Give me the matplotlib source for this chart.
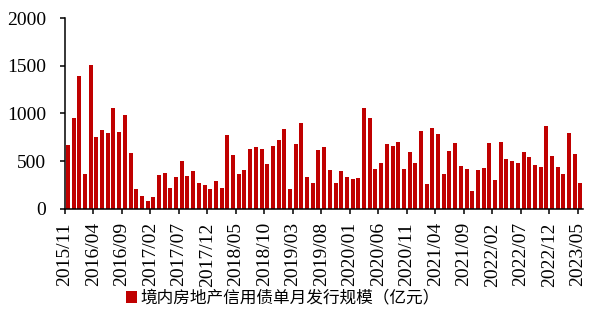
import matplotlib
matplotlib.use('Agg')
import matplotlib.pyplot as plt
import numpy as np

# monthly issuance, 2015/11 .. 2023/05 (亿元)
start_year, start_month = 2015, 11
values = [670, 956, 1396, 366, 1511, 754, 831, 792, 1057, 810,
          981, 590, 206, 133, 80, 122, 356, 373, 216, 335,
          503, 349, 398, 276, 251, 209, 297, 216, 775, 569,
          366, 408, 632, 646, 625, 475, 660, 719, 841, 209,
          681, 897, 332, 272, 618, 649, 408, 269, 398, 339,
          318, 328, 1054, 949, 415, 478, 684, 663, 698, 419,
          597, 478, 817, 262, 852, 789, 366, 611, 691, 454,
          415, 192, 408, 433, 695, 307, 702, 527, 506, 482,
          597, 544, 461, 436, 873, 551, 436, 363, 792, 579, 276]
yticks = [0, 500, 1000, 1500, 2000]
legend_label = '境内房地产信用债单月发行规模（亿元）'

labels = []
for i in range(len(values)):
    m = start_month - 1 + i
    labels.append('%d/%02d' % (start_year + m // 12, m % 12 + 1))

fig = plt.figure(figsize=(5.91, 3.16), dpi=100)
ax = fig.add_axes([0.110, 0.339, 0.877, 0.604])
x = np.arange(len(values))
ax.bar(x, values, width=0.7, color='#C00000', label=legend_label)

ax.set_xlim(-0.5, len(values) - 0.5)
ax.set_ylim(0, 2000)
ax.set_yticks(yticks)
ax.set_yticklabels([str(v) for v in yticks], fontfamily='Liberation Serif', fontsize=14)
tick_pos = x[::5]
ax.set_xticks(tick_pos - 0.5)
ax.set_xticklabels([labels[i] for i in tick_pos], rotation=90,
                   fontfamily='Liberation Serif', fontsize=14)
for s in ['top', 'right']:
    ax.spines[s].set_visible(False)
for s in ['left', 'bottom']:
    ax.spines[s].set_linewidth(1.1)
    ax.spines[s].set_color('black')
ax.tick_params(axis='both', direction='out', length=3.6, width=1.1)
ax.tick_params(axis='y', pad=10)
ax.tick_params(axis='x', pad=6)

fig.legend(loc='lower center', bbox_to_anchor=(0.478, 0.0), frameon=False,
           prop={'family': 'Noto Sans CJK SC', 'size': 12},
           handlelength=0.7, handleheight=0.7, handletextpad=0.15, borderaxespad=0.15)

fig.savefig('out.png', dpi=100)
